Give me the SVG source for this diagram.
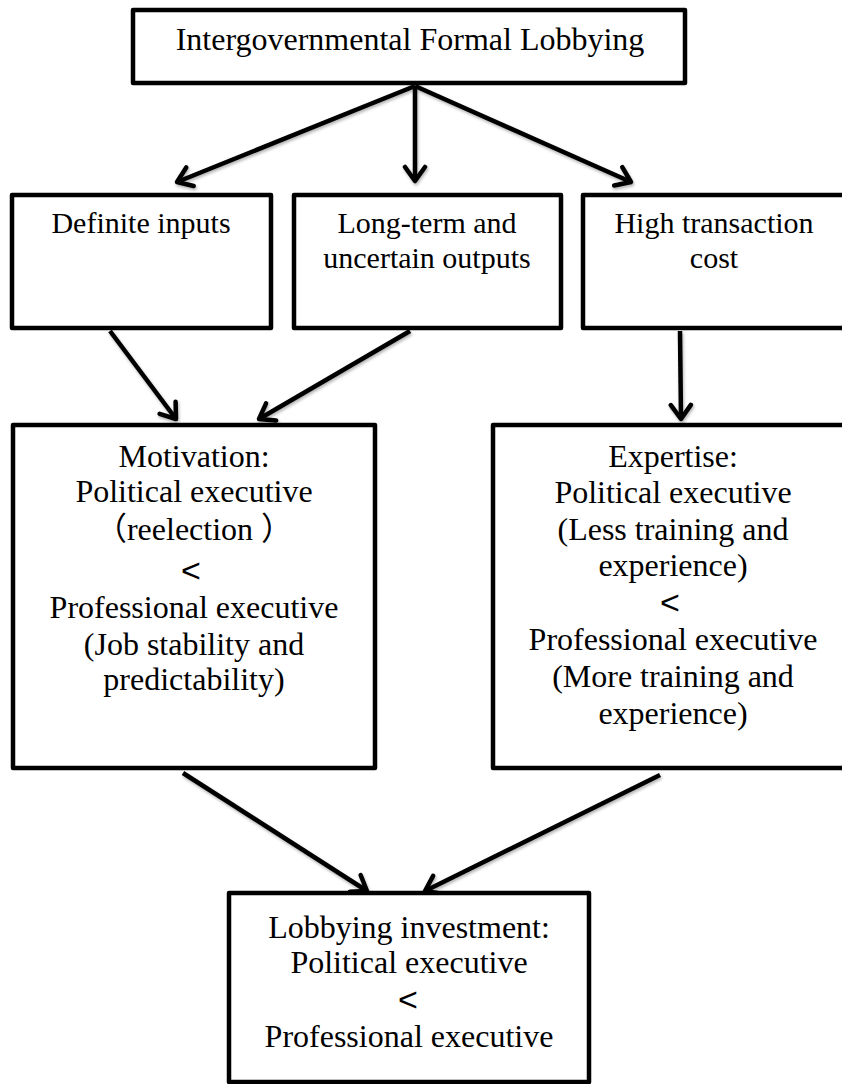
<svg xmlns="http://www.w3.org/2000/svg" width="842" height="1084" viewBox="0 0 842 1084">
<style>
.box{fill:#fff;stroke:#000;stroke-width:4.5;stroke-linejoin:round}
.t{font-family:"Liberation Serif","Noto Sans CJK SC",serif;font-size:32px;fill:#000;text-anchor:middle}
.t2{font-family:"Liberation Serif",serif;font-size:30px;fill:#000;text-anchor:middle}
.lt{font-family:"Liberation Sans",sans-serif;font-size:34px;fill:#000;text-anchor:middle}
.c{stroke:#000;stroke-width:4.5;fill:none;marker-end:url(#ah)}
</style>
<defs>
<marker id="ah" markerUnits="userSpaceOnUse" markerWidth="26" markerHeight="26" refX="18" refY="13" orient="auto">
<path d="M4,3 L18,13 L4,23" fill="none" stroke="#000" stroke-width="4.5" stroke-linecap="round" stroke-linejoin="round"/>
</marker>
<filter id="sh" x="-20%" y="-20%" width="140%" height="140%">
<feDropShadow dx="1" dy="2" stdDeviation="1.5" flood-color="#000" flood-opacity="0.3"/>
</filter>
</defs>
<rect width="842" height="1084" fill="#fff"/>
<g id="connectors" filter="url(#sh)">
<line class="c" x1="415" y1="86" x2="177" y2="182"/>
<line class="c" x1="415" y1="86" x2="415" y2="181"/>
<line class="c" x1="415" y1="86" x2="631" y2="182"/>
<line class="c" x1="110" y1="331" x2="176" y2="419"/>
<line class="c" x1="410" y1="331" x2="259" y2="419"/>
<line class="c" x1="680" y1="331" x2="681" y2="419"/>
<line class="c" x1="183" y1="773" x2="367" y2="891"/>
<line class="c" x1="660" y1="775" x2="425" y2="891"/>
</g>
<g id="n-top">
<rect class="box" x="133" y="10" width="552" height="73"/>
<text class="t" x="410" y="50">Intergovernmental Formal Lobbying</text>
</g>
<g id="n-inputs">
<rect class="box" x="12" y="195" width="259" height="133"/>
<text class="t2" x="141" y="233">Definite inputs</text>
</g>
<g id="n-outputs">
<rect class="box" x="294" y="195" width="267" height="133"/>
<text class="t2" x="427" y="233">Long-term and</text>
<text class="t2" x="427" y="268">uncertain outputs</text>
</g>
<g id="n-cost">
<rect class="box" x="583" y="195" width="280" height="133"/>
<text class="t2" x="714" y="233">High transaction</text>
<text class="t2" x="714" y="268">cost</text>
</g>
<g id="n-motivation">
<rect class="box" x="13" y="425" width="362" height="343"/>
<text class="t" x="194" y="467">Motivation:</text>
<text class="t" x="194" y="502">Political executive</text>
<text class="t" x="194" y="540">（reelection ）</text>
<text class="lt" x="191" y="582">&lt;</text>
<text class="t" x="194" y="618">Professional executive</text>
<text class="t" x="194" y="655">(Job stability and</text>
<text class="t" x="194" y="690">predictability)</text>
</g>
<g id="n-expertise">
<rect class="box" x="493" y="425" width="370" height="343"/>
<text class="t" x="673" y="467">Expertise:</text>
<text class="t" x="673" y="503">Political executive</text>
<text class="t" x="673" y="540">(Less training and</text>
<text class="t" x="673" y="576">experience)</text>
<text class="lt" x="670" y="614">&lt;</text>
<text class="t" x="673" y="650">Professional executive</text>
<text class="t" x="673" y="687">(More training and</text>
<text class="t" x="673" y="724">experience)</text>
</g>
<g id="n-investment">
<rect class="box" x="229" y="893" width="360" height="189"/>
<text class="t" x="409" y="938">Lobbying investment:</text>
<text class="t" x="409" y="973">Political executive</text>
<text class="lt" x="408" y="1011">&lt;</text>
<text class="t" x="409" y="1047">Professional executive</text>
</g>
</svg>
